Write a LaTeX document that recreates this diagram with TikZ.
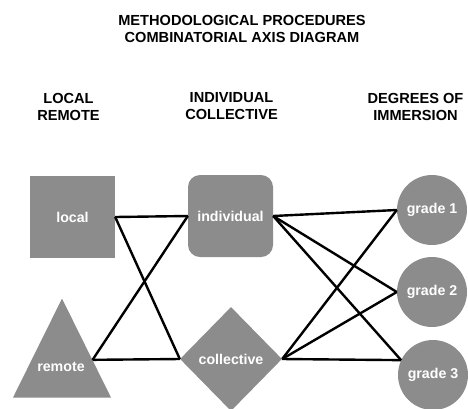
\documentclass[tikz,border=0pt]{standalone}
\usepackage{fontspec}
\setmainfont{Liberation Sans}
\usetikzlibrary{shapes.geometric}

\definecolor{shapegray}{HTML}{8C8C8C}

\begin{document}
\begin{tikzpicture}[x=1pt,y=-1pt,
    head/.style={align=center,font=\fontsize{14.6}{17}\selectfont\bfseries},
    item/.style={fill=shapegray,text=white,inner sep=0pt,font=\fontsize{14.2}{17}\selectfont\bfseries},
    link/.style={line width=2.4pt,black}]
\useasboundingbox (0,0) rectangle (468,408);
% headings
\node[head] (title) at (242,29) {METHODOLOGICAL PROCEDURES\\COMBINATORIAL AXIS DIAGRAM};
\node[head] (axislocal) at (68.5,106.5) {LOCAL\\REMOTE};
\node[head] (axisindiv) at (231.5,106.5) {INDIVIDUAL\\COLLECTIVE};
\node[head] (axisgrade) at (415.5,106.5) {DEGREES OF\\IMMERSION};
% first axis
\node[item,minimum width=85pt,minimum height=82pt] (local) at (72.5,217) {local};
\node[item,isosceles triangle,shape border rotate=90,isosceles triangle stretches,
      minimum width=98pt,minimum height=99pt,anchor=apex] (remote) at (62,298) {};
\node[item,fill=none] (remotetext) at (61,367) {remote};
\path (remote.apex) -- (remote.right corner) coordinate[pos=.62] (remoteout);
% second axis
\node[item,rounded corners=12pt,minimum width=85pt,minimum height=82pt] (individual) at (230.5,216) {individual};
\node[item,diamond,minimum width=102pt,minimum height=104pt] (collective) at (231,359) {collective};
% third axis
\node[item,circle,minimum size=70pt] (grade1) at (432,210) {grade 1};
\node[item,circle,minimum size=70pt] (grade2) at (432,292) {grade 2};
\node[item,circle,minimum size=70pt] (grade3) at (433,375) {grade 3};
% combinations
\draw[link] (local.east) -- (individual.west);
\draw[link] (local.east) -- (collective.west);
\draw[link] (remoteout) -- (individual.west);
\draw[link] (remoteout) -- (collective.west);
\draw[link] (individual.east) -- (grade1.west);
\draw[link] (individual.east) -- (grade2.west);
\draw[link] (individual.east) -- (grade3.155);
\draw[link] (collective.east) -- (grade1.west);
\draw[link] (collective.east) -- (grade2.west);
\draw[link] (collective.east) -- (grade3.155);
\end{tikzpicture}
\end{document}
